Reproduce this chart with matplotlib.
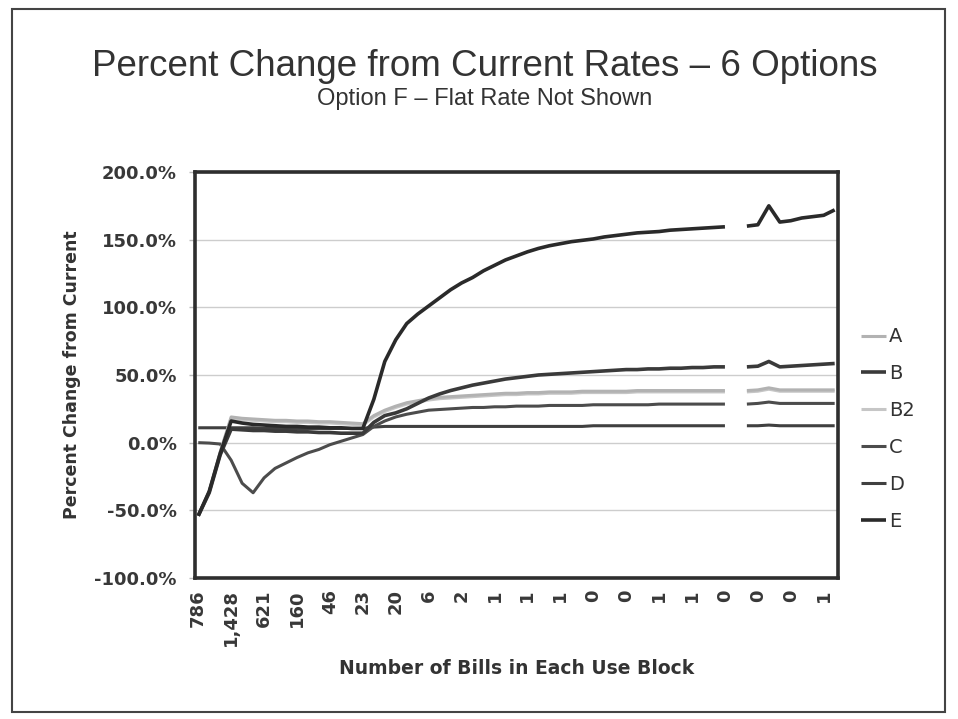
import numpy as np
import matplotlib
matplotlib.use("Agg")
import matplotlib.pyplot as plt
from matplotlib.patches import Rectangle
from matplotlib.ticker import FuncFormatter
from matplotlib.font_manager import FontProperties

nan = np.nan

# bill counts shown under every third use block
x_labels = ["786", "1,428", "621", "160", "46", "23", "20", "6", "2", "1",
            "1", "1", "0", "0", "1", "1", "0", "0", "0", "1"]
n_blocks = 59

# percent change from current rates, one value per use block (49 has no data)
opt_a = [-54, -36, -7, 19, 18, 17.5, 17, 16.5, 16.5, 16, 16, 15.5, 15.5, 15, 14.5, 14,
         20, 24, 27, 29.5, 31, 32.5, 33.5, 34, 34.5, 35, 35.5, 36, 36.5, 36.5,
         37, 37, 37.5, 37.5, 37.5, 38, 38, 38, 38, 38, 38.5, 38.5, 38.5, 38.5, 38.5,
         38.5, 38.5, 38.5, 38.5,
         nan, 38.5, 39, 40.5, 39, 39, 39, 39, 39, 39]
opt_b = [-54, -37, -9, 10, 9.5, 9, 9, 8.5, 8.5, 8, 8, 7.5, 7.5, 7, 7, 7,
         15, 20, 22, 25, 29, 33, 36, 38.5, 40.5, 42.5, 44, 45.5, 47, 48,
         49, 50, 50.5, 51, 51.5, 52, 52.5, 53, 53.5, 54, 54, 54.5, 54.5, 55, 55,
         55.5, 55.5, 56, 56,
         nan, 56, 56.5, 60, 56, 56.5, 57, 57.5, 58, 58.5]
opt_b2 = [-54, -36, -7, 18, 17, 16.5, 16, 15.5, 15.5, 15, 15, 14.5, 14.5, 14, 13.5, 13,
          19, 23, 26, 28.5, 30, 31.5, 32.5, 33, 33.5, 34, 34.5, 35, 35.5, 35.5,
          36, 36, 36.5, 36.5, 36.5, 37, 37, 37, 37, 37, 37.5, 37.5, 37.5, 37.5, 37.5,
          37.5, 37.5, 37.5, 37.5,
          nan, 37.5, 38, 39.5, 38, 38, 38, 38, 38, 38]
opt_c = [0, -0.3, -1, -13, -30, -37, -26, -19, -15, -11, -7.5, -5, -1.5, 1, 3.5, 6,
         12, 16, 19, 21, 22.5, 24, 24.5, 25, 25.5, 26, 26, 26.5, 26.5, 27,
         27, 27, 27.5, 27.5, 27.5, 27.5, 28, 28, 28, 28, 28, 28, 28.5, 28.5, 28.5,
         28.5, 28.5, 28.5, 28.5,
         nan, 28.5, 29, 30, 29, 29, 29, 29, 29, 29]
opt_d = [11, 11, 11, 11, 11, 11, 10.5, 10.5, 10.5, 10.5, 10.5, 10.5, 10.5, 10.5, 10.5, 10.5,
         11.5, 12, 12, 12, 12, 12, 12, 12, 12, 12, 12, 12, 12, 12,
         12, 12, 12, 12, 12, 12, 12.5, 12.5, 12.5, 12.5, 12.5, 12.5, 12.5, 12.5, 12.5,
         12.5, 12.5, 12.5, 12.5,
         nan, 12.5, 12.5, 13, 12.5, 12.5, 12.5, 12.5, 12.5, 12.5]
opt_e = [-54, -36, -8, 16, 14.5, 13.5, 13, 12.5, 12, 12, 11.5, 11.5, 11, 11, 10.5, 10.5,
         32, 60, 76, 88, 95, 101, 107, 113, 118, 122, 127, 131, 135, 138,
         141, 143.5, 145.5, 147, 148.5, 149.5, 150.5, 152, 153, 154, 155, 155.5, 156, 157,
         157.5, 158, 158.5, 159, 159.5,
         nan, 160, 161, 175, 163, 164, 166, 167, 168, 172]

series = [
    ("D", opt_d, "#404040", 2.2),
    ("C", opt_c, "#4c4c4c", 2.2),
    ("B2", opt_b2, "#c6c6c6", 2.2),
    ("A", opt_a, "#b2b2b2", 2.2),
    ("B", opt_b, "#3a3a3a", 2.6),
    ("E", opt_e, "#2a2a2a", 2.6),
]

fig = plt.figure(figsize=(9.58, 7.19), dpi=100)
ax = fig.add_axes([0.2035, 0.1961, 0.6712, 0.5647])

x = np.arange(n_blocks)
lines = {}
for name, vals, col, lw in series:
    ln, = ax.plot(x, vals, color=col, lw=lw, solid_capstyle="butt", zorder=3)
    lines[name] = ln

ax.set_xlim(-0.3, n_blocks - 0.7)
ax.set_ylim(-100, 200)
ax.set_yticks(np.arange(-100, 201, 50))
ax.yaxis.set_major_formatter(FuncFormatter(lambda v, p: "%.1f%%" % v))
ax.grid(axis="y", color="#cdcdcd", lw=1.0)
ax.set_axisbelow(True)

ax.set_xticks(x[::3])
ax.set_xticklabels(x_labels, rotation=90)

for s in ax.spines.values():
    s.set_linewidth(2.6)
    s.set_color("#2e2e2e")

tick_font = FontProperties(family="DejaVu Sans", weight="bold", size=13)
for lab in ax.get_yticklabels() + ax.get_xticklabels():
    lab.set_fontproperties(tick_font)
    lab.set_color("#383838")
ax.tick_params(axis="y", length=4, width=1, color="#bbbbbb", pad=9)
ax.tick_params(axis="x", length=0, pad=8)

ax.set_ylabel("Percent Change from Current", family="DejaVu Sans", weight="bold",
              size=12.5, color="#333333", labelpad=10)
ax.set_xlabel("Number of Bills in Each Use Block", family="DejaVu Sans", weight="bold",
              size=13.5, color="#333333", labelpad=9)

fig.text(0.506, 0.908, "Percent Change from Current Rates \u2013 6 Options",
         ha="center", va="center", family="Liberation Sans", size=26.5, color="#333333")
fig.text(0.506, 0.862, "Option F \u2013 Flat Rate Not Shown",
         ha="center", va="center", family="Liberation Sans", size=17, color="#333333")

order = ["A", "B", "B2", "C", "D", "E"]
leg = fig.legend([lines[k] for k in order], order, loc="upper left",
                 bbox_to_anchor=(0.880, 0.569), frameon=False,
                 handlelength=1.3, handletextpad=0.15, labelspacing=0.92,
                 prop=dict(family="DejaVu Sans", size=14))
for t in leg.get_texts():
    t.set_color("#333333")

fig.patches.append(Rectangle((12 / 958, 1 - 712 / 719), 933 / 958, 703 / 719,
                             transform=fig.transFigure, fill=False,
                             edgecolor="#444444", lw=1.5))

fig.savefig("out.png", dpi=100)
